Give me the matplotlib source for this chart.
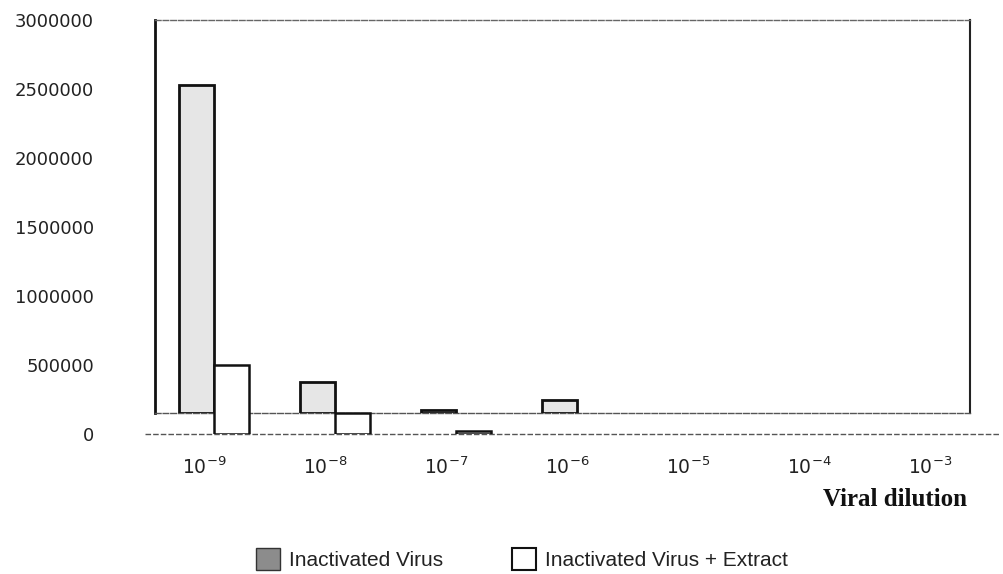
import matplotlib
matplotlib.use("Agg")
import matplotlib.pyplot as plt
import matplotlib.transforms as mtransforms
from matplotlib.patches import Patch
import numpy as np

# ---- data ----
categories = ["10$^{-9}$", "10$^{-8}$", "10$^{-7}$", "10$^{-6}$", "10$^{-5}$", "10$^{-4}$", "10$^{-3}$"]
inactivated_virus = [2500000, 240000, 25000, 100000, 0, 0, 0]
virus_plus_extract = [500000, 150000, 25000, 0, 0, 0, 0]
y_ticks = [0, 500000, 1000000, 1500000, 2000000, 2500000, 3000000]
series_names = ["Inactivated Virus", "Inactivated Virus + Extract"]
x_title = "Viral dilution"

W, H = 1004, 574
fig = plt.figure(figsize=(W / 100, H / 100), dpi=100)

def fr(x0, y_top, x1, y_bot):
    return [x0 / W, 1 - y_bot / H, (x1 - x0) / W, (y_bot - y_top) / H]

x = np.arange(len(categories))
xlim = (-0.4876, 6.248)
bw = 0.29

# back wall axes (gray series sits on the back floor)
ax_back = fig.add_axes(fr(155, 20, 970, 413))
ax_back.set_xlim(*xlim)
ax_back.set_ylim(0, 3000000)
ax_back.set_xticks([])
ax_back.set_yticks([])
ax_back.patch.set_alpha(0)
ax_back.spines["left"].set_linewidth(2.0)
ax_back.spines["left"].set_color("#111111")
ax_back.spines["right"].set_linewidth(1.5)
ax_back.spines["right"].set_color("#222222")
ax_back.spines["top"].set_linewidth(1.0)
ax_back.spines["top"].set_color("#666666")
ax_back.spines["top"].set_linestyle((0, (4, 1.5)))
ax_back.spines["bottom"].set_linewidth(1.0)
ax_back.spines["bottom"].set_color("#555555")
ax_back.spines["bottom"].set_linestyle((0, (4, 1.5)))

bars_g = ax_back.bar(x - bw / 2, inactivated_virus, width=bw, facecolor="#e6e6e6",
                     edgecolor="#111111", linewidth=2.0, zorder=3)
for b, v in zip(bars_g, inactivated_virus):
    if v == 0:
        b.set_visible(False)

# front axes (white series sits on the front floor; value axis labels)
ax = fig.add_axes(fr(155, 20, 970, 434))
ax.set_xlim(*xlim)
ax.set_ylim(0, 3000000)
ax.patch.set_alpha(0)
for s in ax.spines.values():
    s.set_visible(False)

bars_w = ax.bar(x + bw / 2, virus_plus_extract, width=bw, facecolor="white",
                edgecolor="#111111", linewidth=1.8, zorder=3)
for b, v in zip(bars_w, virus_plus_extract):
    if v == 0:
        b.set_visible(False)

ax.plot([-0.012, 1.037], [0, 0], transform=ax.transAxes, clip_on=False,
        color="#555555", lw=1.0, ls=(0, (4, 1.5)), zorder=1)

ax.set_yticks(y_ticks)
ax.set_yticklabels([str(v) for v in y_ticks], fontsize=13, color="#222222",
                   family="DejaVu Sans")
ax.tick_params(axis="y", length=0, pad=44)

ax.set_xticks(x)
ax.set_xticklabels(categories, fontsize=13.5, color="#222222")
ax.tick_params(axis="x", length=0, pad=16)
offset = mtransforms.ScaledTranslation(-10 / 100, 0, fig.dpi_scale_trans)
for lab in ax.get_xticklabels():
    lab.set_transform(lab.get_transform() + offset)

fig.text(967 / W, 1 - 500 / H, x_title, ha="right", va="center",
         family="Liberation Serif", fontweight="bold", fontsize=18, color="#111111")

handles = [Patch(facecolor="#8c8c8c", edgecolor="#333333", linewidth=1.0),
           Patch(facecolor="white", edgecolor="#111111", linewidth=1.5)]
fig.legend(handles, series_names, loc="center", bbox_to_anchor=(522 / W, 1 - 559 / H),
           ncol=2, frameon=False, prop={"family": "Liberation Sans", "size": 15},
           handlelength=1.15, handleheight=1.2, handletextpad=0.45, columnspacing=3.3,
           labelcolor="#222222")

fig.savefig("out.png", dpi=100)
